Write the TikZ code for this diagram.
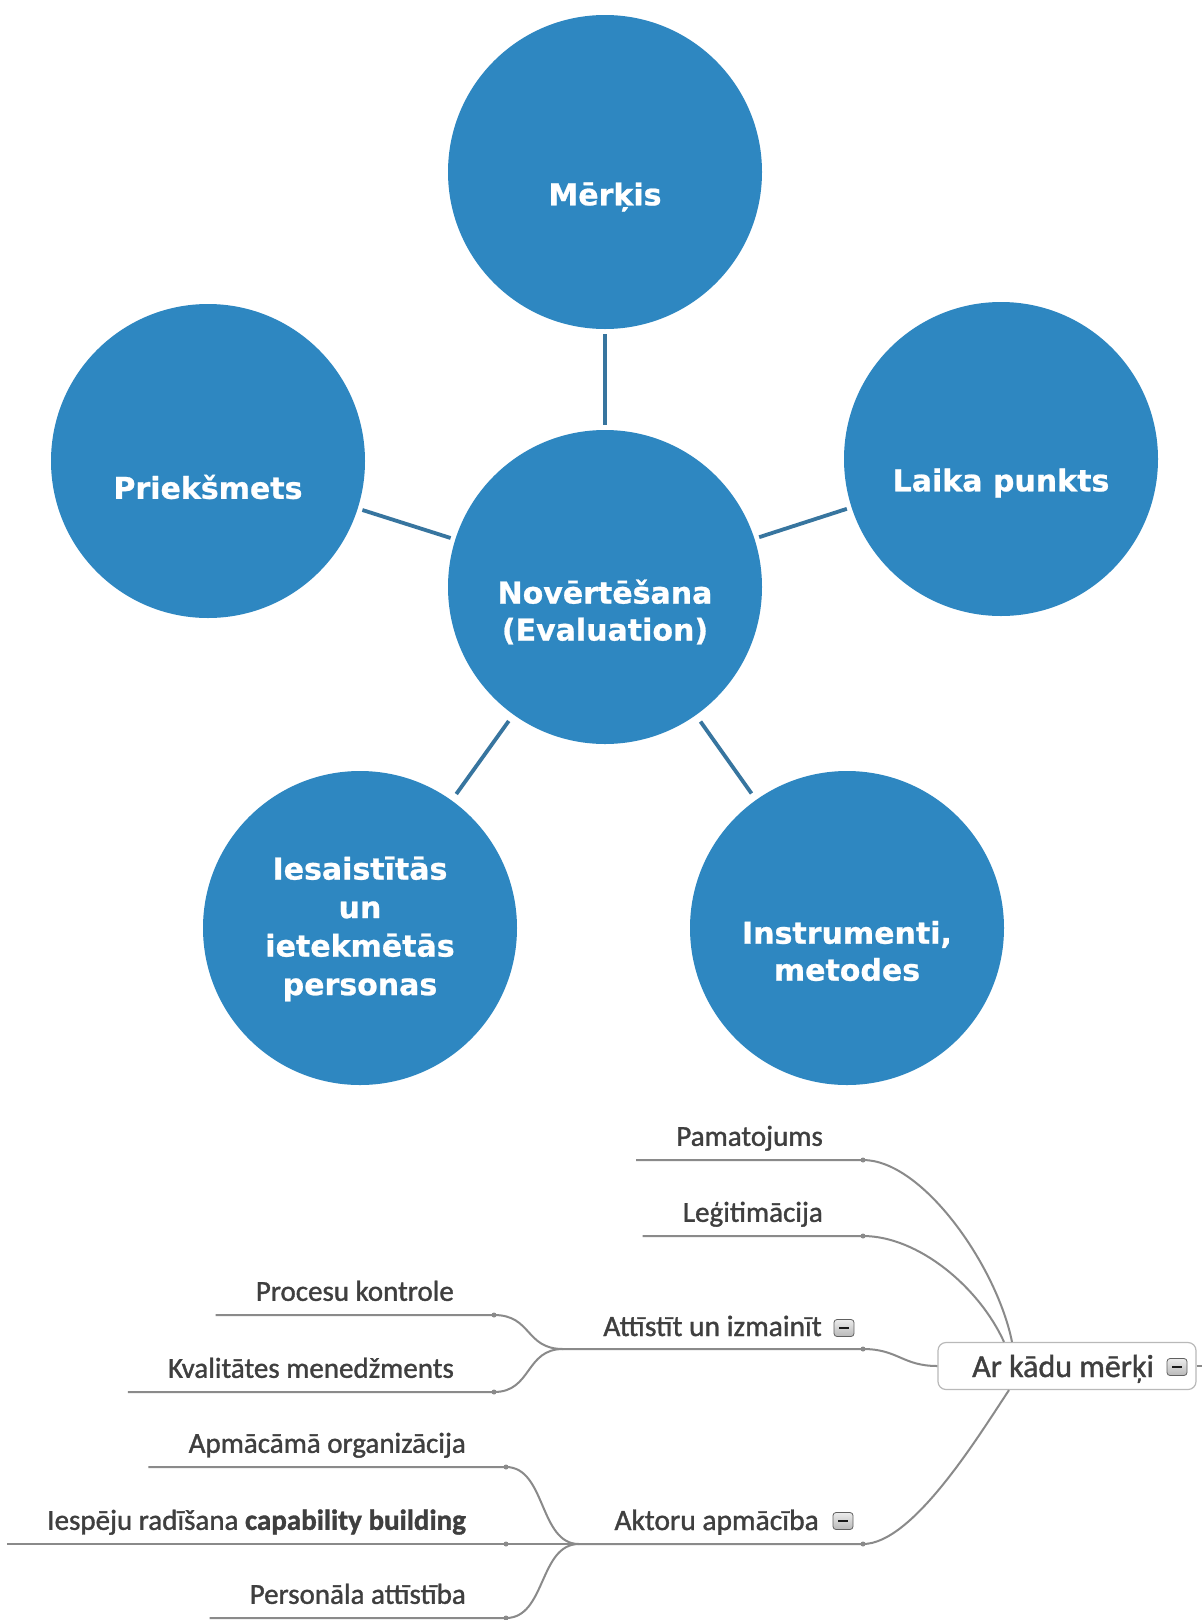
\documentclass[tikz,border=0pt]{standalone}
\usepackage{fontspec}
\newfontfamily\circfont{DejaVu Sans}[BoldFeatures={FakeBold=0.8}]
\newfontfamily\mmfont{Carlito}[FakeBold=1.2]
\definecolor{cblue}{HTML}{2E87C1}
\definecolor{lblue}{HTML}{37759F}
\definecolor{mmtext}{HTML}{3F3F3F}
\definecolor{mmline}{HTML}{8A8A8A}
\tikzset{
  circ/.style={circle, fill=cblue, minimum size=314pt, inner sep=0pt, outer sep=0pt},
  ctext/.style={text=white, font=\circfont\bfseries\fontsize{30}{37}\selectfont, align=center, inner sep=0pt},
  spoke/.style={draw=lblue, line width=3.8pt, shorten <=5pt, shorten >=5pt},
  spokefar/.style={spoke, shorten <=8pt, shorten >=8pt},
  leaf/.style={font=\mmfont\fontsize{29}{34}\selectfont, text=mmtext, inner xsep=40pt, inner ysep=9pt, text height=18pt, text depth=5pt, anchor=south east},
  midtext/.style={font=\mmfont\fontsize{29.5}{34}\selectfont, text=mmtext, inner sep=0pt, anchor=base east},
  mmconn/.style={draw=mmline, line width=2pt},
  dotm/.style={circle, fill=mmline, inner sep=0pt, minimum size=5pt},
  minusicon/.style={rectangle, rounded corners=3pt, draw=gray!75!black, line width=0.8pt, top color=gray!15, bottom color=gray!55, minimum width=20pt, minimum height=17pt, inner sep=0pt,
    path picture={\draw[gray!20!black, line width=1.4pt] ([xshift=5pt]path picture bounding box.west) -- ([xshift=-5pt]path picture bounding box.east);}},
  rootbox/.style={draw=gray!55, line width=1.2pt, rounded corners=8pt, minimum width=258pt, minimum height=47pt, inner sep=0pt, fill=white},
}
\begin{document}
\begin{tikzpicture}[x=1pt, y=-1pt]
\useasboundingbox (0,0) rectangle (1202,1620);
\fill[white] (0,0) rectangle (1202,1620);

% ---------- circles ----------
\node[circ] (merkis) at (605,172) {};
\node[ctext] (merkisT) at (605,197) {Mērķis};
\node[circ] (priek) at (208,461) {};
\node[ctext] (priekT) at (208,487) {Priekšmets};
\node[circ] (laika) at (1001,459) {};
\node[ctext] (laikaT) at (1001,483) {Laika punkts};
\node[circ] (nov) at (605,587) {};
\node[ctext] (novT) at (605,612) {Novērtēšana\\(Evaluation)};
\node[circ] (iesa) at (360,928) {};
\node[ctext, font=\circfont\bfseries\fontsize{30}{38.5}\selectfont] (iesaT) at (360,929) {Iesaistītās\\un\\ietekmētās\\personas};
\node[circ] (instr) at (847,928) {};
\node[ctext] (instrT) at (847,951) {Instrumenti,\\metodes};

\draw[spoke] (merkis) -- (nov);
\draw[spoke] (priek) -- (nov);
\draw[spoke] (laika) -- (nov);
\draw[spokefar] (iesa) -- (nov);
\draw[spokefar] (instr) -- (nov);

% ---------- mind map ----------
\node[rootbox] (box) at (1067,1366) {};
\node[font=\mmfont\fontsize{32}{36}\selectfont, text=mmtext, inner sep=0pt, anchor=base] (boxT) at (1063,1377) {Ar kādu mērķi};
\node[minusicon] (boxI) at (1177,1367) {};
\coordinate (stub) at (1202,1366);
\draw[mmconn] (box.east) -- (stub);

\node[leaf] (pam) at (863,1160) {Pamatojums};
\node[leaf] (leg) at (863,1236) {Leģitimācija};
\node[leaf] (proc) at (494,1315) {Procesu kontrole};
\node[leaf] (kval) at (494,1392) {Kvalitātes menedžments};
\node[leaf] (apm) at (506,1467) {Apmācāmā organizācija};
\node[leaf] (iesp) at (506,1544) {Iespēju radīšana \textbf{capability building}};
\node[leaf] (pers) at (506,1618) {Personāla attīstība};

\coordinate (J1) at (563,1349);
\coordinate (attE) at (863,1349);
\node[midtext] (att) at (822,1336) {Attīstīt un izmainīt};
\node[minusicon] (attI) at (844,1328) {};

\coordinate (J2) at (579,1544);
\coordinate (aktE) at (863,1544);
\node[midtext] (akt) at (819,1530) {Aktoru apmācība};
\node[minusicon] (aktI) at (843,1521) {};

% connectors
\draw[mmconn] (pam.south west) -- (pam.south east) .. controls +(60,0) and +(-15,-75) .. ([xshift=-55pt]box.north);
\draw[mmconn] (leg.south west) -- (leg.south east) .. controls +(55,0) and +(-25,-55) .. ([xshift=-63pt]box.north);
\draw[mmconn] (J1) -- (attE) .. controls +(35,0) and +(-35,0) .. (box.west);
\draw[mmconn] (J2) -- (aktE) .. controls +(50,0) and +(-30,45) .. ([xshift=-58pt]box.south);

\draw[mmconn] (proc.south west) -- (proc.south east) .. controls +(38,0) and +(-38,0) .. (J1);
\draw[mmconn] (kval.south west) -- (kval.south east) .. controls +(38,0) and +(-38,0) .. (J1);
\draw[mmconn] (apm.south west) -- (apm.south east) .. controls +(40,0) and +(-40,0) .. (J2);
\draw[mmconn] (iesp.south west) -- (iesp.south east) -- (J2);
\draw[mmconn] (pers.south west) -- (pers.south east) .. controls +(40,0) and +(-40,0) .. (J2);

\node[dotm] (d1) at (pam.south east) {};
\node[dotm] (d2) at (leg.south east) {};
\node[dotm] (d3) at (proc.south east) {};
\node[dotm] (d4) at (kval.south east) {};
\node[dotm] (d5) at (apm.south east) {};
\node[dotm] (d6) at (iesp.south east) {};
\node[dotm] (d7) at (pers.south east) {};
\node[dotm] (d8) at (attE) {};
\node[dotm] (d9) at (aktE) {};
\end{tikzpicture}
\end{document}
